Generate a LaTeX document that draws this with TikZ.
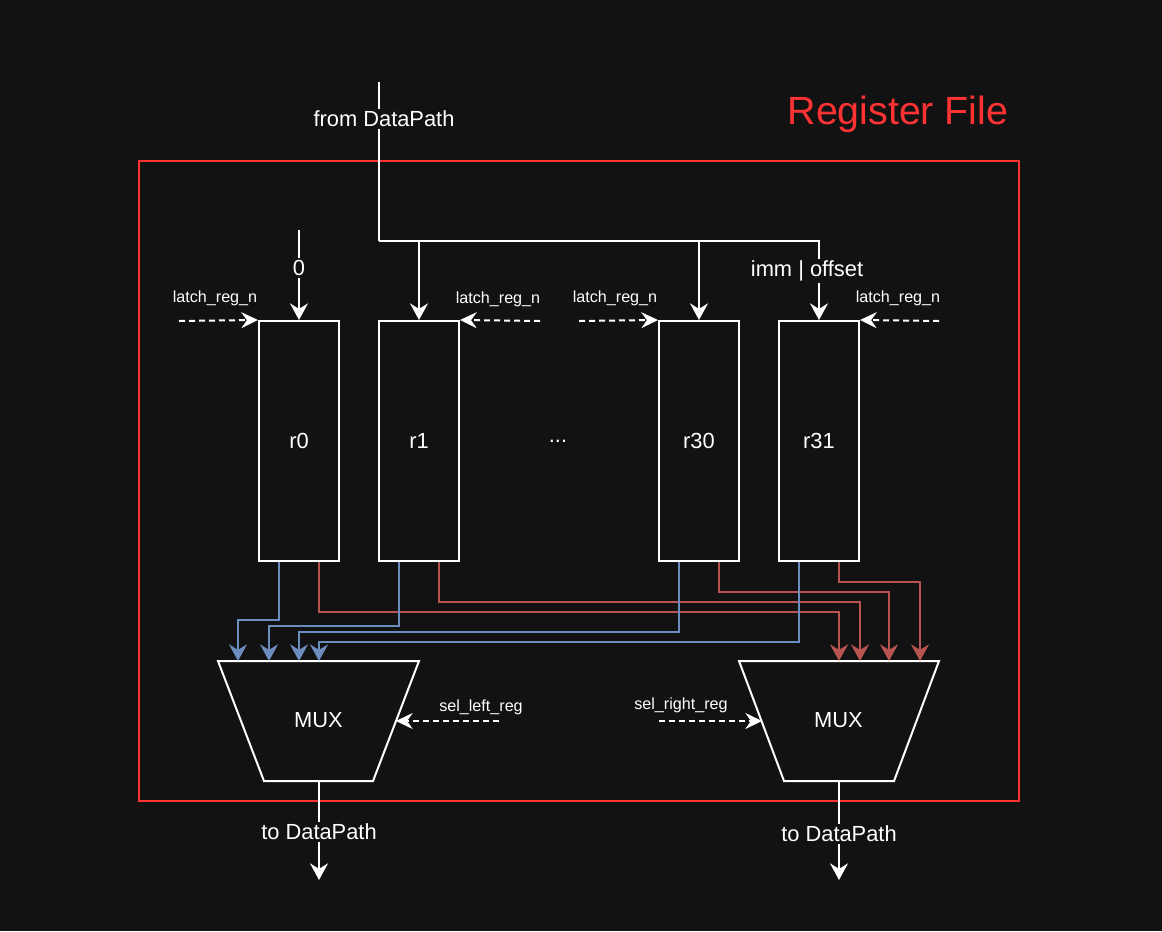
\documentclass[tikz,border=0pt]{standalone}
\usepackage{fontspec}
\setmainfont{Liberation Sans}
\usetikzlibrary{arrows.meta,calc}
\definecolor{bg}{HTML}{121212}
\definecolor{frame}{HTML}{FF3333}
\definecolor{bl}{HTML}{6C8EBF}
\definecolor{rd}{HTML}{B85450}
\tikzset{
  wl/.style={draw=white, line width=1.5pt},
  tipw/.style={-{Stealth[length=12.5pt,width=13.5pt,inset=4.2pt]}},
  dsh/.style={draw=white, line width=1.5pt, dash pattern=on 4.5pt off 3pt, -{Stealth[length=12.5pt,width=12pt,inset=4.2pt]}},
  bline/.style={draw=bl, line width=1.4pt, -{Stealth[length=12.5pt,width=13.5pt,inset=4.2pt]}},
  rline/.style={draw=rd, line width=1.4pt, -{Stealth[length=12.5pt,width=13.5pt,inset=4.2pt]}},
  regbox/.style={draw=white, line width=1.5pt, minimum width=60pt, minimum height=180pt, text=white, font=\fontsize{16.4}{19}\selectfont, inner sep=0pt},
  lbl/.style={text=white, font=\fontsize{16.4}{19}\selectfont, inner sep=1pt},
  lblbg/.style={text=white, fill=bg, font=\fontsize{16.4}{19}\selectfont, inner sep=1.5pt},
  slbl/.style={text=white, font=\fontsize{12.1}{14}\selectfont, inner sep=1pt},
}
\begin{document}
\begin{tikzpicture}[x=0.75pt,y=-0.75pt]
\fill[bg] (0,0) rectangle (1162,931);
\useasboundingbox (0,0) rectangle (1162,931);

% frame
\draw[draw=frame, line width=1.5pt] (139,161) rectangle (1019,801);
\node[text=frame, font=\fontsize{29.5}{35}\selectfont, inner sep=0pt] (title) at (898,114) {Register File};

% registers
\node[regbox] (r0) at (299,441) {r0};
\node[regbox] (r1) at (419,441) {r1};
\node[regbox] (r30) at (699,441) {r30};
\node[regbox] (r31) at (819,441) {r31};
\node[lbl] (dots) at (558,441) {...};

% muxes
\draw[wl, line join=miter] (218,661) -- (419,661) -- (373,781) -- (264,781) -- cycle;
\node[lbl] (muxL) at (318.5,720) {MUX};
\draw[wl, line join=miter] (739,661) -- (939,661) -- (894,781) -- (784,781) -- cycle;
\node[lbl] (muxR) at (838.5,720) {MUX};

\coordinate (inL1) at (238,661);
\coordinate (inL2) at (269,661);
\coordinate (inL3) at (299,661);
\coordinate (inL4) at (319,661);
\coordinate (inR1) at (839,661);
\coordinate (inR2) at (860,661);
\coordinate (inR3) at (889,661);
\coordinate (inR4) at (920,661);

% red connectors
\draw[rline] ($(r0.south)+(20,0)$) -- ++(0,50) -| (inR1);
\draw[rline] ($(r1.south)+(20,0)$) -- ++(0,40) -| (inR2);
\draw[rline] ($(r30.south)+(20,0)$) -- ++(0,30) -| (inR3);
\draw[rline] ($(r31.south)+(20,0)$) -- ++(0,20) -| (inR4);
% blue connectors
\draw[bline] ($(r0.south)+(-20,0)$) -- ++(0,58) -| (inL1);
\draw[bline] ($(r1.south)+(-20,0)$) -- ++(0,64) -| (inL2);
\draw[bline] ($(r30.south)+(-20,0)$) -- ++(0,70) -| (inL3);
\draw[bline] ($(r31.south)+(-20,0)$) -- ++(0,80) -| (inL4);

% inputs from datapath
\coordinate (fromDP) at (379,82);
\coordinate (bus) at (379,241);
\draw[wl] (fromDP) -- (bus);
\draw[wl, tipw] (bus) -| (r31.north);
\draw[wl, tipw] (bus -| r1.north) -- (r1.north);
\draw[wl, tipw] (bus -| r30.north) -- (r30.north);
\node[lblbg] (fromlbl) at (384,119) {from DataPath};
\node[lblbg] (immlbl) at (807,271) {imm | offset};

\coordinate (zero) at (299,230);
\draw[wl, tipw] (zero) -- (r0.north);
\node[lblbg] (zerolbl) at (299,268) {0};

% latch signals
\coordinate (la0) at (179,321);
\coordinate (la1) at (540,321);
\coordinate (la30) at (579,321);
\coordinate (la31) at (939,321);
\draw[dsh] (la0) -- (r0.north west);
\draw[dsh] (la1) -- (r1.north east);
\draw[dsh] (la30) -- (r30.north west);
\draw[dsh] (la31) -- (r31.north east);
\node[slbl] (lt0) at (215,298) {latch\_reg\_n};
\node[slbl] (lt1) at (498,299) {latch\_reg\_n};
\node[slbl] (lt30) at (615,298) {latch\_reg\_n};
\node[slbl] (lt31) at (898,298) {latch\_reg\_n};

% select signals
\coordinate (selL) at (499,721);
\coordinate (selLt) at (396,721);
\coordinate (selR) at (659,721);
\coordinate (selRt) at (762,721);
\draw[dsh] (selL) -- (selLt);
\draw[dsh] (selR) -- (selRt);
\node[slbl] (sll) at (481,707) {sel\_left\_reg};
\node[slbl] (slr) at (681,705) {sel\_right\_reg};

% outputs
\coordinate (outL0) at (319,781);
\coordinate (outL) at (319,880);
\coordinate (outR0) at (839,781);
\coordinate (outR) at (839,880);
\draw[wl, tipw] (outL0) -- (outL);
\draw[wl, tipw] (outR0) -- (outR);
\node[lblbg] (tdl) at (319,832) {to DataPath};
\node[lblbg] (tdr) at (839,834) {to DataPath};
\end{tikzpicture}
\end{document}
